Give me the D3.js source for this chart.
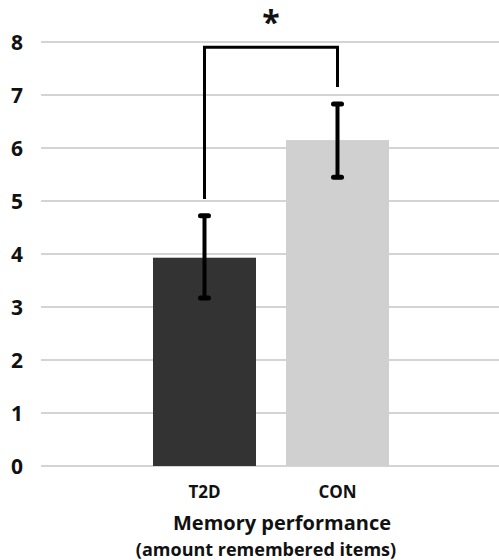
<!DOCTYPE html>
<html><head><meta charset="utf-8">
<script src="https://cdn.jsdelivr.net/npm/d3@7/dist/d3.min.js"></script>
<style>body{margin:0;background:#fff}svg{display:block}text{font-family:"Open Sans",sans-serif;font-weight:700;fill:#111}</style>
</head><body>
<script>
const categories = ["T2D", "CON"];
const means = [3.93, 6.15];
const errLow = [3.17, 5.45];
const errHigh = [4.72, 6.83];
const yTicks = [0,1,2,3,4,5,6,7,8];
const barColors = ["#333333", "#d0d0d0"];
const bracketLeftBottom = 5.04, bracketRightBottom = 7.15, bracketTop = 7.9;
const sigLabel = "*";
const xTitle = "Memory performance";
const xSubtitle = "(amount remembered items)";

const W = 499, H = 560;
const svg = d3.select("body").append("svg").attr("width", W).attr("height", H);
const y = d3.scaleLinear().domain([0, 8]).range([466, 42]);
const x = d3.scaleBand().domain(categories).range([139.7, 402.3]).paddingInner(0.2256).paddingOuter(0.1);

// gridlines
svg.append("g").selectAll("line").data(yTicks).join("line")
  .attr("x1", 41).attr("x2", 499)
  .attr("y1", d => y(d)).attr("y2", d => y(d))
  .attr("stroke", "#d4d4d4").attr("stroke-width", 2);

// y tick labels
svg.append("g").selectAll("text").data(yTicks).join("text")
  .attr("x", 17).attr("y", d => y(d)).attr("dy", "0.36em")
  .attr("text-anchor", "middle").style("font-size", "21px").text(d => d);

// bars
svg.append("g").selectAll("rect").data(categories).join("rect")
  .attr("x", d => x(d)).attr("width", x.bandwidth())
  .attr("y", (d, i) => y(means[i])).attr("height", (d, i) => y(0) - y(means[i]))
  .attr("fill", (d, i) => barColors[i]);

// error bars
const eg = svg.append("g").attr("stroke", "#000").attr("stroke-linecap", "round");
categories.forEach((c, i) => {
  const cx = x(c) + x.bandwidth() / 2;
  eg.append("line").attr("x1", cx).attr("x2", cx).attr("y1", y(errLow[i])).attr("y2", y(errHigh[i])).attr("stroke-width", 4);
  [errLow[i], errHigh[i]].forEach(v => {
    eg.append("line").attr("x1", cx - 4).attr("x2", cx + 4).attr("y1", y(v)).attr("y2", y(v)).attr("stroke-width", 5);
  });
});

// significance bracket
const lx = x(categories[0]) + x.bandwidth() / 2, rx = x(categories[1]) + x.bandwidth() / 2;
svg.append("path")
  .attr("d", `M${lx},${y(bracketLeftBottom)}V${y(bracketTop)}H${rx}V${y(bracketRightBottom)}`)
  .attr("fill", "none").attr("stroke", "#000").attr("stroke-width", 3);
svg.append("text").attr("x", (lx + rx) / 2).attr("y", 34).attr("text-anchor", "middle")
  .style("font-size", "32px").text(sigLabel);

// x labels
svg.append("g").selectAll("text").data(categories).join("text")
  .attr("x", d => x(d) + x.bandwidth() / 2).attr("y", 498).attr("text-anchor", "middle")
  .style("font-size", "17px").text(d => d);
svg.append("text").attr("x", 282).attr("y", 530).attr("text-anchor", "middle").style("font-size", "20px").text(xTitle);
svg.append("text").attr("x", 266).attr("y", 556).attr("text-anchor", "middle").style("font-size", "18px").text(xSubtitle);
</script>
</body></html>
